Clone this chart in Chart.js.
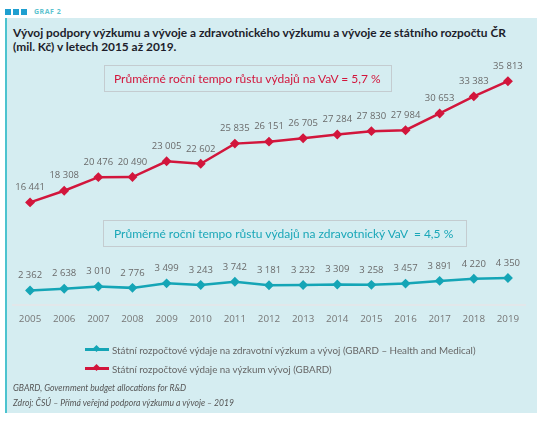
<!DOCTYPE html>
<html><head><meta charset="utf-8">
<script src="https://cdn.jsdelivr.net/npm/chart.js@4"></script>
<style>
html,body{margin:0;padding:0;background:#fff;}
#wrap{position:relative;width:544px;height:426px;overflow:hidden;font-family:Lato,"Open Sans",sans-serif;}
#panel{position:absolute;left:5px;top:18px;width:532px;height:395px;background:#d5edf1;border-left:2px solid #4cc3cf;box-sizing:border-box;}
.sq{position:absolute;top:9px;width:6px;height:6px;background:#1e9fd0;}
#graf{position:absolute;left:34px;top:7px;font-size:7px;font-weight:700;color:#5cc3cf;letter-spacing:0.5px;font-family:"Open Sans",sans-serif;}
#title{position:absolute;left:13px;top:26px;white-space:nowrap;font-size:11.9px;font-weight:700;line-height:14px;color:#1d1d2b;}
#cv{position:absolute;left:0;top:0;width:544px;height:426px;}
.box{position:absolute;border:1px solid #c4ccd0;box-sizing:border-box;font-size:12px;white-space:nowrap;display:flex;align-items:center;}
#box1{left:104px;top:65px;width:288px;height:27px;color:#d2163c;padding-left:9px;}
#box2{left:103px;top:220px;width:364px;height:27px;color:#1aa7b8;padding-left:10px;}
#legend{position:absolute;left:85px;top:340px;font-size:9.8px;color:#666;}
.li{height:19px;display:flex;align-items:center;white-space:nowrap;}
.ls{position:relative;width:24px;height:3px;margin-right:3px;}
.ls i{position:absolute;left:9px;top:-2.5px;width:5px;height:5px;transform:rotate(45deg);}
#foot{position:absolute;left:13px;top:381px;font-size:8.6px;font-style:italic;color:#555;line-height:15px;}
</style></head>
<body><div id="wrap">
<div class="sq" style="left:5px"></div><div class="sq" style="left:13px"></div><div class="sq" style="left:21px"></div>
<div id="graf">GRAF 2</div>
<div id="panel"></div>
<div id="title">Vývoj podpory výzkumu a vývoje a zdravotnického výzkumu a vývoje ze státního rozpočtu ČR<br>(mil. Kč) v letech 2015 až 2019.</div>
<canvas id="cv" width="544" height="426"></canvas>
<div class="box" id="box1">Průměrné roční tempo růstu výdajů na VaV = 5,7 %</div>
<div class="box" id="box2">Průměrné roční tempo růstu výdajů na zdravotnický VaV&nbsp; = 4,5 %</div>
<div id="legend"></div>
<div id="foot">GBARD, Government budget allocations for R&amp;D<br>Zdroj: ČSÚ – Přímá veřejná podpora výzkumu a vývoje – 2019</div>
</div>
<script>
const years = ["2005","2006","2007","2008","2009","2010","2011","2012","2013","2014","2015","2016","2017","2018","2019"];
const gbardTotal = [16441,18308,20476,20490,23005,22602,25835,26151,26705,27284,27830,27984,30653,33383,35813];
const gbardHealth = [2362,2638,3010,2776,3499,3243,3742,3181,3232,3309,3258,3457,3891,4220,4350];
const seriesNames = ["Státní rozpočtové výdaje na zdravotní výzkum a vývoj (GBARD – Health and Medical)","Státní rozpočtové výdaje na výzkum  vývoj (GBARD)"];
const seriesColors = ["#15a5b6","#d2163c"];

function fmt(v){return String(v).replace(/\B(?=(\d{3})+(?!\d))/g," ");}

const labelPlugin = {
  id:'vals',
  afterDatasetsDraw(chart){
    const ctx = chart.ctx;
    ctx.save();
    ctx.font = '9.5px "Open Sans", sans-serif';
    ctx.fillStyle = '#6a6a6a';
    ctx.textAlign = 'center';
    ctx.textBaseline = 'middle';
    chart.data.datasets.forEach((ds,i)=>{
      chart.getDatasetMeta(i).data.forEach((pt,j)=>{
        ctx.fillText(fmt(ds.data[j]), pt.x, pt.y-15);
      });
    });
    ctx.restore();
  }
};

new Chart(document.getElementById('cv'),{
  type:'line',
  data:{labels:years,datasets:[
    {label:seriesNames[0],data:gbardHealth,borderColor:seriesColors[0],backgroundColor:seriesColors[0],borderWidth:2.5,pointStyle:'rectRot',pointRadius:3.2,tension:0},
    {label:seriesNames[1],data:gbardTotal,borderColor:seriesColors[1],backgroundColor:seriesColors[1],borderWidth:2.5,pointStyle:'rectRot',pointRadius:3.2,tension:0}
  ]},
  options:{
    responsive:false,animation:false,
    layout:{padding:{left:13,right:19,top:55,bottom:93}},
    plugins:{legend:{display:false},tooltip:{enabled:false}},
    scales:{
      x:{offset:true,grid:{display:false,drawTicks:false},border:{display:true,color:'#e2e7ea',width:2},
         ticks:{padding:8,color:'#777',font:{family:'"Open Sans", sans-serif',size:9.8}}},
      y:{display:false,min:0,max:40000}
    }
  },
  plugins:[labelPlugin]
});

const lg = document.getElementById('legend');
seriesNames.forEach((n,i)=>{
  const d=document.createElement('div');d.className='li';
  d.innerHTML='<span class="ls" style="background:'+seriesColors[i]+'"><i style="background:'+seriesColors[i]+'"></i></span><span></span>';
  d.lastChild.textContent=n;
  lg.appendChild(d);
});
</script>
</body></html>
